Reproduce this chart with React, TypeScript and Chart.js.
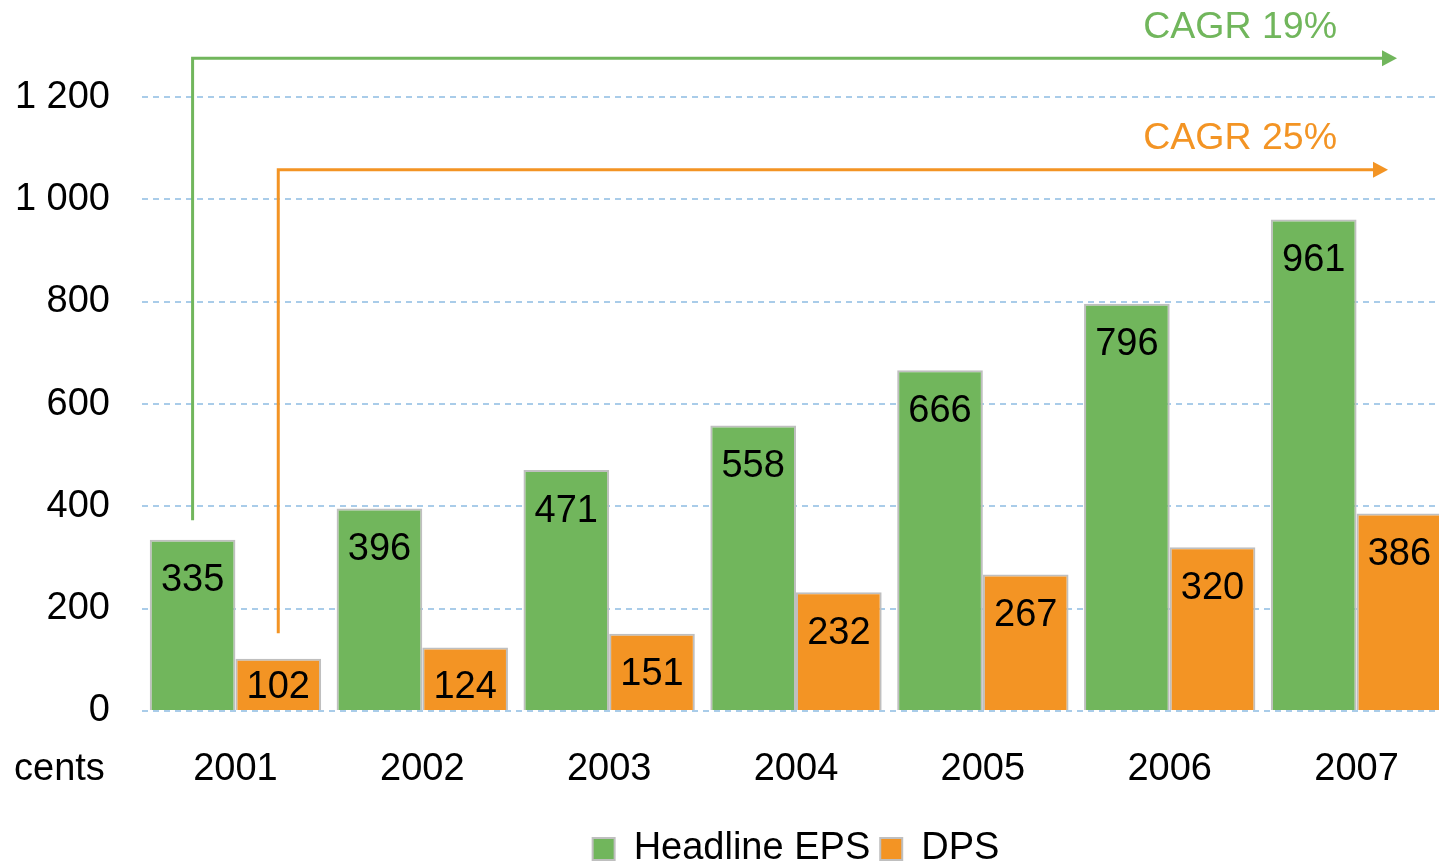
import React, { useEffect, useRef } from 'react';
import { Chart, registerables } from 'chart.js';

Chart.register(...registerables);

const FONT = '"Liberation Sans", Arial, Helvetica, sans-serif';

const categories = ['2001', '2002', '2003', '2004', '2005', '2006', '2007'];
const epsValues = [335, 396, 471, 558, 666, 796, 961];
const dpsValues = [102, 124, 151, 232, 267, 320, 386];
const yTickValues = [0, 200, 400, 600, 800, 1000, 1200];
const yMax = 1300;

const seriesNames = ['Headline EPS', 'DPS'];
const seriesColors = ['#71B65C', '#F39424'];

const cagrLabels = ['CAGR 19%', 'CAGR 25%'];
const cagrLevels = [1276, 1058];
const cagrStartLevels = [373, 152];
const unitLabel = 'cents';

const fmt = (v: number) => String(v).replace(/\B(?=(\d{3})+(?!\d))/g, ' ');

const labelsPlugin = {
  id: 'barLabels',
  afterDatasetsDraw(chart: any) {
    const ctx = chart.ctx;
    ctx.save();
    ctx.font = `38px ${FONT}`;
    ctx.fillStyle = '#000';
    ctx.textAlign = 'center';
    ctx.textBaseline = 'middle';
    chart.data.datasets.forEach((ds: any, di: number) => {
      const meta = chart.getDatasetMeta(di);
      meta.data.forEach((bar: any, i: number) => {
        const y = Math.min(bar.y + 41, bar.base - 22);
        ctx.fillText(String(ds.data[i]), bar.x, y);
      });
    });
    ctx.restore();
  },
};

const cagrPlugin = {
  id: 'cagr',
  afterDatasetsDraw(chart: any) {
    const ctx = chart.ctx;
    const yScale = chart.scales.y;
    const area = chart.chartArea;
    const ends = [area.right - 53, area.right - 62];
    ctx.save();
    cagrLabels.forEach((label, i) => {
      const meta = chart.getDatasetMeta(i);
      const x = meta.data[0].x;
      const yTop = yScale.getPixelForValue(cagrLevels[i]);
      const yBot = yScale.getPixelForValue(cagrStartLevels[i]);
      const xEnd = ends[i];
      const col = seriesColors[i];
      ctx.strokeStyle = col;
      ctx.fillStyle = col;
      ctx.lineWidth = 3;
      ctx.lineJoin = 'miter';
      ctx.beginPath();
      ctx.moveTo(x, yBot);
      ctx.lineTo(x, yTop);
      ctx.lineTo(xEnd - 14, yTop);
      ctx.stroke();
      ctx.beginPath();
      ctx.moveTo(xEnd, yTop);
      ctx.lineTo(xEnd - 15, yTop - 8);
      ctx.lineTo(xEnd - 15, yTop + 8);
      ctx.closePath();
      ctx.fill();
      ctx.font = `37.5px ${FONT}`;
      ctx.textAlign = 'right';
      ctx.textBaseline = 'middle';
      ctx.fillText(label, area.right - 113, yTop - 31);
    });
    ctx.font = `38px ${FONT}`;
    ctx.fillStyle = '#000';
    ctx.textAlign = 'left';
    ctx.textBaseline = 'middle';
    ctx.fillText(unitLabel, area.left - 128, area.bottom + 59);
    ctx.restore();
  },
};

export default function App() {
  const ref = useRef<HTMLCanvasElement>(null);
  useEffect(() => {
    const chart = new Chart(ref.current!, {
      type: 'bar',
      data: {
        labels: categories,
        datasets: [
          {
            label: seriesNames[0],
            data: epsValues,
            backgroundColor: seriesColors[0],
            borderColor: '#BFBFBF',
            borderWidth: 2,
            categoryPercentage: 0.917,
            barPercentage: 1,
          },
          {
            label: seriesNames[1],
            data: dpsValues,
            backgroundColor: seriesColors[1],
            borderColor: '#BFBFBF',
            borderWidth: 2,
            categoryPercentage: 0.917,
            barPercentage: 1,
          },
        ],
      },
      options: {
        animation: false,
        responsive: true,
        maintainAspectRatio: false,
        devicePixelRatio: 1,
        layout: { padding: { top: 46, left: 0, right: 0, bottom: -12 } },
        plugins: {
          tooltip: { enabled: false },
          legend: {
            position: 'bottom',
            fullSize: false,
            labels: {
              font: { family: FONT, size: 38 },
              color: '#000',
              boxWidth: 22,
              boxHeight: 22,
              padding: 10,
            },
          },
        },
        scales: {
          x: {
            grid: { display: false },
            border: { display: false },
            ticks: { font: { family: FONT, size: 38 }, color: '#000', padding: 28 },
            afterFit: (s: any) => {
              s.height = 109;
            },
          },
          y: {
            min: 0,
            max: yMax,
            afterBuildTicks: (s: any) => {
              s.ticks = yTickValues.map((v) => ({ value: v }));
            },
            afterFit: (s: any) => {
              s.width = 142;
              s.paddingTop = 0;
              s.paddingBottom = 0;
            },
            grid: { color: '#A9CCE9', lineWidth: 2, drawTicks: false },
            border: { display: false, dash: [6, 5] },
            ticks: {
              font: { family: FONT, size: 38 },
              color: '#000',
              padding: 32,
              callback: (v: any) => fmt(Number(v)),
            },
          },
        },
      },
      plugins: [labelsPlugin, cagrPlugin],
    });
    return () => chart.destroy();
  }, []);
  return (
    <div style={{ position: 'fixed', left: 0, top: 0, width: 1450, height: 866, background: '#fff' }}>
      <canvas ref={ref} />
    </div>
  );
}
